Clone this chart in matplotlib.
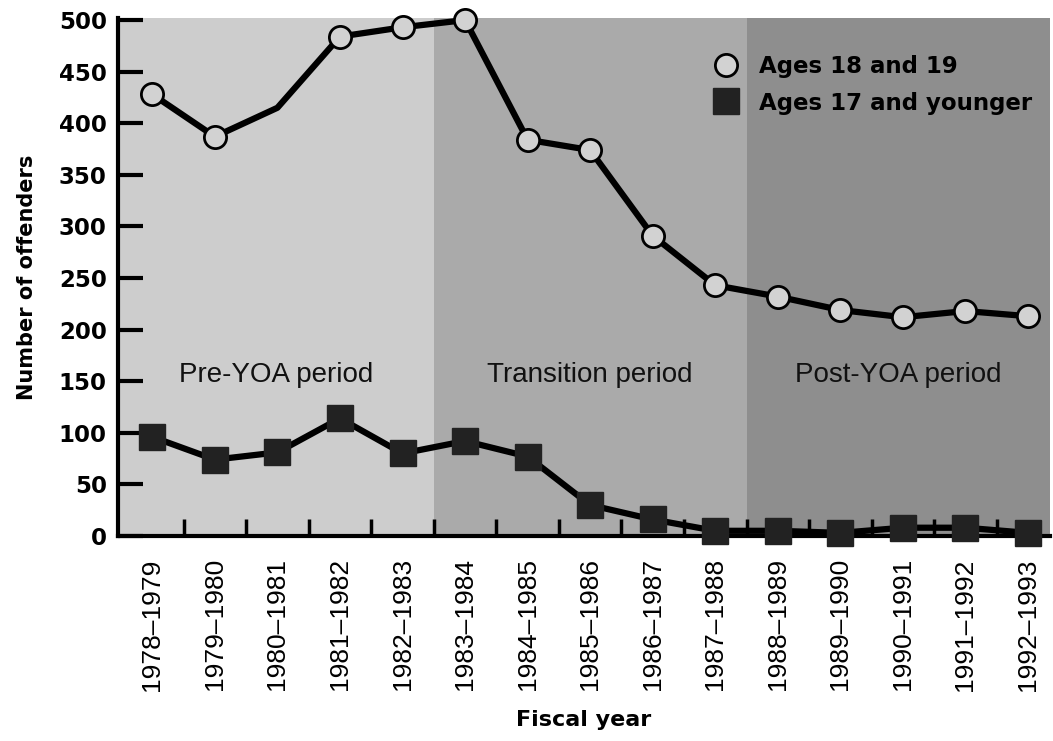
import numpy as np
import matplotlib.pyplot as plt

# --- data ---
years = ["1978\u20131979", "1979\u20131980", "1980\u20131981", "1981\u20131982",
         "1982\u20131983", "1983\u20131984", "1984\u20131985", "1985\u20131986",
         "1986\u20131987", "1987\u20131988", "1988\u20131989", "1989\u20131990",
         "1990\u20131991", "1991\u20131992", "1992\u20131993"]
ages_18_19 = [428, 387, 415, 484, 493, 500, 384, 374, 291, 243, 232, 219, 212, 218, 213]
ages_17_under = [96, 74, 81, 114, 80, 92, 77, 30, 16, 5, 5, 3, 8, 8, 3]

periods = ["Pre-YOA period", "Transition period", "Post-YOA period"]
period_edges = [-0.55, 4.5, 9.5, 14.35]
period_colors = ["#cdcdcd", "#aaaaaa", "#8e8e8e"]

narrow = ["Liberation Sans Narrow", "Liberation Sans", "DejaVu Sans"]

fig = plt.figure(figsize=(10.53, 7.41), dpi=100)
ax = fig.add_axes([0.112, 0.2767, 0.885, 0.699])

x = np.arange(len(years))

# --- shaded periods ---
for i, name in enumerate(periods):
    ax.axvspan(period_edges[i], period_edges[i + 1], color=period_colors[i], zorder=0, lw=0)
    ax.text((period_edges[i] + period_edges[i + 1]) / 2, 156, name,
            ha="center", va="center", fontsize=20, family=narrow, color="#111111")

# --- lines ---
ax.plot(x, ages_18_19, color="black", lw=4.5, marker="o", markersize=16,
        markerfacecolor="#d2d2d2", markeredgecolor="black", markeredgewidth=2,
        markevery=[0, 1, 3, 4, 5, 6, 7, 8, 9, 10, 11, 12, 13, 14],
        clip_on=False, zorder=3, label="Ages 18 and 19")
ax.plot(x, ages_17_under, color="black", lw=4.5, marker="s", markersize=19,
        markerfacecolor="#222222", markeredgecolor="#222222",
        clip_on=False, zorder=3, label="Ages 17 and younger")

ax.set_xlim(period_edges[0], period_edges[-1])
ax.set_ylim(0, 502)

# --- axes styling ---
ax.set_yticks(range(0, 501, 50))
ax.set_yticklabels([str(v) for v in range(0, 501, 50)], fontsize=16.5, fontweight="bold")
ax.tick_params(axis="y", direction="in", length=18, width=3, pad=8)

ax.set_xticks(x)
ax.set_xticklabels(years, rotation=90, fontsize=19, family=narrow)
ax.tick_params(axis="x", length=0, pad=16)
ax.set_xticks(x[:-1] + 0.5, minor=True)
ax.tick_params(axis="x", which="minor", direction="in", length=12, width=2.5)

for side in ["top", "right"]:
    ax.spines[side].set_visible(False)
for side in ["left", "bottom"]:
    ax.spines[side].set_linewidth(3)

ax.set_ylabel("Number of offenders", fontsize=15, fontweight="bold", labelpad=16)
ax.set_xlabel("Fiscal year", fontsize=16, fontweight="bold", labelpad=14)

leg = ax.legend(loc="upper right", bbox_to_anchor=(0.998, 0.96), frameon=False,
                prop={"size": 16.5, "weight": "bold"}, handlelength=0.7,
                handletextpad=1.1, labelspacing=0.6, borderaxespad=0.3)
for h in leg.legend_handles:
    h.set_linestyle("none")

fig.savefig("out.png", dpi=100)
